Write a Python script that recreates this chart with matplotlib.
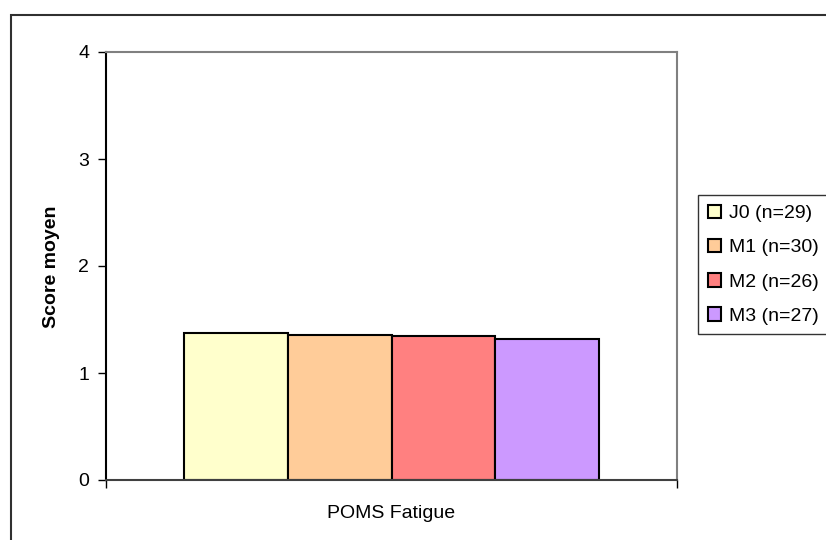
import matplotlib.pyplot as plt
from matplotlib.patches import Rectangle

plt.rcParams["font.family"] = ["Liberation Sans", "DejaVu Sans"]

categories = ["POMS Fatigue"]
series = ["J0 (n=29)", "M1 (n=30)", "M2 (n=26)", "M3 (n=27)"]
values = [1.37, 1.355, 1.343, 1.32]
colors = ["#FFFFCC", "#FFCC99", "#FF8080", "#CC99FF"]
y_ticks = [0, 1, 2, 3, 4]

fig = plt.figure(figsize=(8.26, 5.4), dpi=100)
ax = fig.add_axes([106 / 826, 1 - 480 / 540, (677 - 106) / 826, (480 - 52) / 540])

group_width = 0.726
bar_w = group_width / len(series)
for i, (name, val, col) in enumerate(zip(series, values, colors)):
    x = -group_width / 2 + bar_w * (i + 0.5)
    ax.bar(x, val, width=bar_w, color=col, edgecolor="black", linewidth=1.5, label=name)

ax.set_xlim(-0.5, 0.5)
ax.set_ylim(0, 4)
ax.set_yticks(y_ticks)
ax.tick_params(axis="y", direction="out", length=6, width=1, labelsize=14, pad=6)
ax.set_xticks([-0.5, 0.5])
ax.set_xticklabels(["", ""])
ax.set_xticks([0], labels=categories, minor=True)
ax.tick_params(axis="x", which="major", direction="out", length=6, width=1)
ax.tick_params(axis="x", which="minor", length=0, labelsize=14, pad=18)

ax.spines["left"].set_color("black")
ax.spines["bottom"].set_color("#404040")
ax.spines["top"].set_color("#808080")
ax.spines["right"].set_color("#808080")
for s in ax.spines.values():
    s.set_linewidth(1.5)

fig.text(51 / 826, 1 - 267 / 540, "Score moyen", rotation=90, fontsize=14,
         fontweight="bold", ha="center", va="center")

# outer chart frame
fig.patches.append(Rectangle((11 / 826, -0.1), 1.2, 1.1 - 15 / 540,
                             transform=fig.transFigure, fill=False,
                             edgecolor="#303030", linewidth=1.5, clip_on=False))

leg = fig.legend(loc="upper left", bbox_to_anchor=(698 / 826, 1 - 195 / 540),
                 fontsize=14, frameon=True, fancybox=False, edgecolor="black",
                 handlelength=0.7, handleheight=0.7, handletextpad=0.4,
                 labelspacing=0.85, borderpad=0.5, borderaxespad=0)
leg.get_frame().set_linewidth(1.0)

fig.savefig("out.png", dpi=100)
